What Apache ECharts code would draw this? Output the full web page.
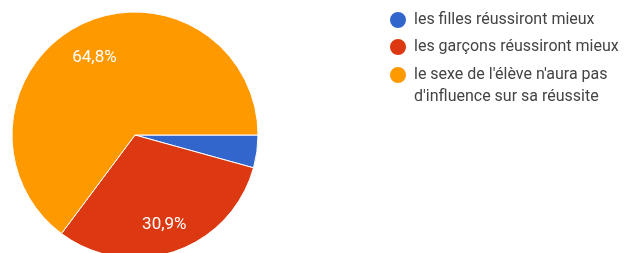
<!DOCTYPE html>
<html>
  <head>
    <meta charset="utf-8" />
    <title>pie</title>
    <style>
      html, body { margin: 0; padding: 0; background: #fff; }
      #chart { width: 624px; height: 253px; }
    </style>
  </head>
  <body>
    <div id="chart"></div>
    <script src="https://cdn.jsdelivr.net/npm/echarts@6/dist/echarts.min.js"></script>
    <script type="text/javascript">
      // données
      var categories = [
        "les filles réussiront mieux",
        "les garçons réussiront mieux",
        "le sexe de l'élève n'aura pas d'influence sur sa réussite"
      ];
      var values = [4.3, 30.9, 64.8];
      var colors = ["#3366cc", "#dc3912", "#ff9900"];

      var pieData = categories.map(function (c, i) {
        return { name: c, value: values[i] };
      });

      var legendText = {
        fontFamily: "Roboto",
        fontSize: 16,
        color: "#444",
        lineHeight: 22,
        padding: [0, 0, 0, 2]
      };

      var chart = echarts.init(document.getElementById("chart"));
      chart.setOption({
        animation: false,
        color: colors,
        legend: [
          {
            orient: "vertical",
            left: 388,
            top: 9,
            padding: 0,
            icon: "circle",
            itemWidth: 18,
            itemHeight: 18,
            itemGap: 5,
            textStyle: legendText,
            data: [categories[0], categories[1]]
          },
          {
            // 3e élément sur deux lignes : ligne vide en tête pour que
            // la première ligne reste alignée sur la pastille
            orient: "vertical",
            left: 388,
            top: 42,
            padding: 0,
            icon: "circle",
            itemWidth: 18,
            itemHeight: 18,
            textStyle: legendText,
            data: [categories[2]],
            formatter: function () {
              return "\nle sexe de l'élève n'aura pas\nd'influence sur sa réussite";
            }
          }
        ],
        series: [
          {
            type: "pie",
            center: [135, 135],
            radius: 123,
            startAngle: 0,
            clockwise: true,
            data: pieData,
            itemStyle: { borderColor: "#fff", borderWidth: 1 },
            label: { show: false },
            labelLine: { show: false },
            silent: true
          },
          {
            // série transparente pour placer les pourcentages
            type: "pie",
            center: [135, 135],
            radius: [52, 123],
            startAngle: 0,
            clockwise: true,
            data: pieData,
            silent: true,
            legendHoverLink: false,
            itemStyle: { color: "rgba(0,0,0,0)" },
            labelLine: { show: false },
            label: {
              show: true,
              position: "inside",
              color: "#fff",
              fontFamily: "Roboto",
              fontSize: 17,
              offset: [0, 4],
              formatter: function (p) {
                if (p.value < 5) return "";
                return p.value.toFixed(1).replace(".", ",") + "%";
              }
            }
          }
        ]
      });
    </script>
  </body>
</html>
